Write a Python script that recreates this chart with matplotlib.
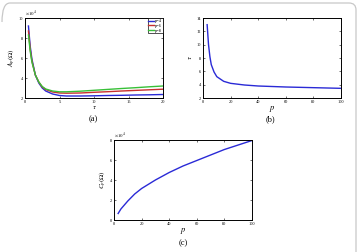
import matplotlib
matplotlib.use("Agg")
import matplotlib.pyplot as plt
from matplotlib.patches import PathPatch
from matplotlib.path import Path

# panel (a): A_p vs tau for three p values (x 1e4)
tau_a = [0.5, 0.75, 1, 1.5, 2, 2.5, 3, 4, 5, 6, 8, 10, 12, 14, 16, 18, 20]
a_p4 = [9.2, 7.2, 5.9, 4.3, 3.5, 3.0, 2.7, 2.4, 2.25, 2.2, 2.2, 2.22, 2.25, 2.27, 2.3, 2.32, 2.35]
a_p6 = [8.7, 6.9, 5.7, 4.3, 3.6, 3.1, 2.85, 2.6, 2.5, 2.48, 2.5, 2.57, 2.63, 2.7, 2.76, 2.82, 2.88]
a_p8 = [8.3, 6.7, 5.6, 4.3, 3.6, 3.15, 2.9, 2.7, 2.62, 2.62, 2.68, 2.77, 2.86, 2.95, 3.03, 3.12, 3.2]

# panel (b): optimal tau vs p
p_b = [3, 4, 5, 6, 8, 10, 15, 20, 30, 40, 60, 80, 100]
tau_b = [13.0, 10.0, 8.2, 7.0, 5.9, 5.2, 4.5, 4.2, 3.95, 3.8, 3.65, 3.55, 3.45]

# panel (c): C_p vs p (x 1e4)
p_c = [3, 5, 10, 15, 20, 30, 40, 50, 60, 70, 80, 90, 100]
c_p = [0.65, 1.1, 1.9, 2.6, 3.15, 4.0, 4.75, 5.4, 5.95, 6.5, 7.05, 7.5, 7.95]

serif = "Liberation Serif"
plt.rcParams["font.family"] = serif
plt.rcParams["mathtext.fontset"] = "stix"

fig = plt.figure(figsize=(3.58, 2.52), dpi=100)
W, H = 358.0, 252.0

def make_ax(x0, y0, x1, y1):
    ax = fig.add_axes([x0 / W, 1 - y1 / H, (x1 - x0) / W, (y1 - y0) / H])
    ax.tick_params(direction="in", length=1.5, width=0.4, labelsize=3.2,
                   top=True, right=True, pad=1.5)
    for s in ax.spines.values():
        s.set_linewidth(0.7)
    return ax

blue = "#2a2ad6"

# (a)
ax = make_ax(25, 18, 163, 98)
ax.plot(tau_a, a_p4, color=blue, lw=1.0, label="p=4")
ax.plot(tau_a, a_p6, color="#c83030", lw=1.0, label="p=6")
ax.plot(tau_a, a_p8, color="#38c038", lw=1.0, label="p=8")
ax.set_xlim(0, 20)
ax.set_ylim(2, 10)
ax.set_xticks([0, 5, 10, 15, 20])
ax.set_yticks([2, 4, 6, 8, 10])
ax.set_xlabel(r"$\tau$", fontsize=5, labelpad=0)
ax.set_ylabel(r"$A_p(\Omega)$", fontsize=5, labelpad=1)
ax.text(0, 1.0, r"$\times10^4$", transform=ax.transAxes, fontsize=3.5, va="bottom")
leg = ax.legend(loc="upper right", fontsize=3.2, frameon=True, fancybox=False,
                borderpad=0.2, handlelength=1.2, handletextpad=0.2, labelspacing=0.1,
                borderaxespad=0.1)
leg.get_frame().set_edgecolor("black")
leg.get_frame().set_linewidth(0.6)
fig.text(93 / W, 1 - 119 / H, "(a)", fontsize=6, ha="center", va="center")

# (b)
ax = make_ax(203, 18, 341, 98)
ax.plot(p_b, tau_b, color=blue, lw=1.0)
ax.set_xlim(0, 100)
ax.set_ylim(2, 14)
ax.set_xticks([0, 20, 40, 60, 80, 100])
ax.set_yticks([2, 4, 6, 8, 10, 12, 14])
ax.set_xlabel(r"$p$", fontsize=6, labelpad=0)
ax.set_ylabel(r"$\tau$", fontsize=5, labelpad=2)
fig.text(270 / W, 1 - 119 / H, "(b)", fontsize=6, ha="center", va="center")

# (c)
ax = make_ax(114, 140, 252, 220)
ax.plot(p_c, c_p, color=blue, lw=1.0)
ax.set_xlim(0, 100)
ax.set_ylim(0, 8)
ax.set_xticks([0, 20, 40, 60, 80, 100])
ax.set_yticks([0, 2, 4, 6, 8])
ax.set_xlabel(r"$p$", fontsize=6, labelpad=0)
ax.set_ylabel(r"$C_p(\Omega)$", fontsize=5, labelpad=1)
ax.text(0, 1.0, r"$\times10^4$", transform=ax.transAxes, fontsize=3.5, va="bottom")
fig.text(183 / W, 1 - 243 / H, "(c)", fontsize=6, ha="center", va="center")

# light frame: rounded top-left corner, top edge and right edge only
pts = [(2, 22), (2, 3), (10, 3), (349, 3), (356, 3), (356, 10), (356, 252)]
codes = [Path.MOVETO, Path.CURVE3, Path.CURVE3, Path.LINETO, Path.CURVE3, Path.CURVE3, Path.LINETO]
frame = Path([(x / W, 1 - y / H) for x, y in pts], codes)
fig.patches.append(PathPatch(frame, transform=fig.transFigure, fill=False,
                             edgecolor="#c8c8c8", lw=0.9))

fig.savefig("out.png", dpi=100)
